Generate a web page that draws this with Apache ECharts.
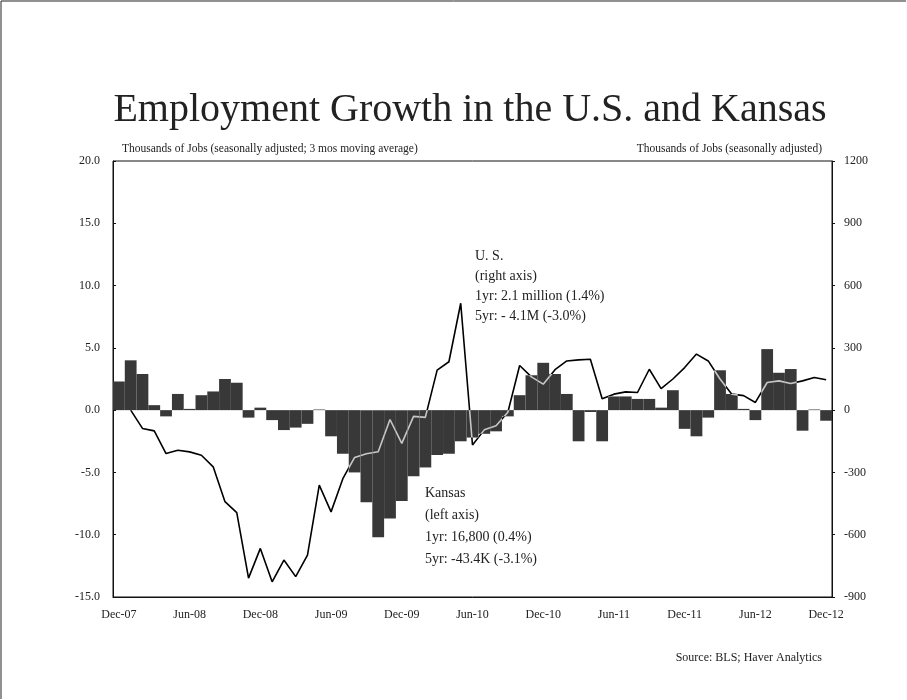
<!DOCTYPE html>
<html>
<head>
<meta charset="utf-8">
<script src="https://cdn.jsdelivr.net/npm/echarts@6/dist/echarts.min.js"></script>
<style>
html,body{margin:0;padding:0;background:#fff;}
#chart{width:907px;height:700px;}
</style>
</head>
<body>
<div id="chart"></div>
<script>
var months = ["Dec-07","Jan-08","Feb-08","Mar-08","Apr-08","May-08","Jun-08","Jul-08","Aug-08","Sep-08","Oct-08","Nov-08",
"Dec-08","Jan-09","Feb-09","Mar-09","Apr-09","May-09","Jun-09","Jul-09","Aug-09","Sep-09","Oct-09","Nov-09",
"Dec-09","Jan-10","Feb-10","Mar-10","Apr-10","May-10","Jun-10","Jul-10","Aug-10","Sep-10","Oct-10","Nov-10",
"Dec-10","Jan-11","Feb-11","Mar-11","Apr-11","May-11","Jun-11","Jul-11","Aug-11","Sep-11","Oct-11","Nov-11",
"Dec-11","Jan-12","Feb-12","Mar-12","Apr-12","May-12","Jun-12","Jul-12","Aug-12","Sep-12","Oct-12","Nov-12",
"Dec-12"];

// Kansas, thousands of jobs (3 mos moving average), left axis
var kansas = [2.3,4.0,2.9,0.4,-0.5,1.3,0.1,1.2,1.5,2.5,2.2,-0.6,
0.2,-0.8,-1.6,-1.4,-1.1,0.05,-2.1,-3.5,-5.0,-7.4,-10.2,-8.7,
-7.3,-5.3,-4.6,-3.6,-3.5,-2.5,-2.2,-1.9,-1.7,-0.5,1.2,2.8,
3.8,2.9,1.3,-2.5,-0.15,-2.5,1.1,1.1,0.9,0.9,0.2,1.6,
-1.5,-2.1,-0.6,3.2,1.3,0.1,-0.8,4.9,3.0,3.3,-1.65,0.05,
-0.85];

// U.S., thousands of jobs, right axis
var us = [null,0,-88,-100,-209,-193,-201,-217,-273,-441,-494,-809,
-666,-827,-722,-802,-698,-361,-490,-330,-228,-210,-200,-45,
-160,-30,-35,193,233,515,-168,-95,-75,-10,215,160,
125,195,237,242,245,55,77,88,85,197,104,150,
205,270,237,150,77,70,37,133,141,128,141,157,
146];

var leftTicks = {min:-15, max:20, interval:5};
var rightTicks = {min:-900, max:1200, interval:300};

var SERIF = "'Liberation Serif', 'DejaVu Serif', serif";
var chart = echarts.init(document.getElementById('chart'), null, {renderer: 'canvas'});

chart.setOption({
  backgroundColor: '#fff',
  animation: false,
  title: {
    text: 'Employment Growth in the U.S. and Kansas',
    left: 465, top: 85, textAlign: 'center',
    textStyle: {fontFamily: SERIF, fontSize: 40, fontWeight: 'normal', color: '#222'}
  },
  grid: {left: 113, right: 75, top: 161, bottom: 103, show: true, borderColor: '#111', borderWidth: 1},
  xAxis: {
    type: 'category', data: months, boundaryGap: true,
    axisLine: {show: true, onZero: false, lineStyle: {color: '#111'}},
    axisTick: {show: false},
    axisLabel: {interval: 5, fontFamily: SERIF, fontSize: 12, color: '#222', margin: 12}
  },
  yAxis: [
    {
      type: 'value', position: 'left', min: leftTicks.min, max: leftTicks.max, interval: leftTicks.interval,
      axisLine: {show: true, lineStyle: {color: '#111'}},
      axisTick: {show: true, inside: true, length: 3, lineStyle: {color: '#111'}},
      splitLine: {show: false},
      axisLabel: {formatter: function(v){return v.toFixed(1);}, fontFamily: SERIF, fontSize: 12, color: '#222', margin: 13}
    },
    {
      type: 'value', position: 'right', min: rightTicks.min, max: rightTicks.max, interval: rightTicks.interval,
      axisLine: {show: true, lineStyle: {color: '#111'}},
      axisTick: {show: true, inside: false, length: 3, lineStyle: {color: '#111'}},
      splitLine: {show: false},
      axisLabel: {formatter: function(v){return String(v);}, fontFamily: SERIF, fontSize: 12, color: '#222', margin: 12}
    }
  ],
  series: [
    {
      name: 'Kansas', type: 'bar', yAxisIndex: 0, data: kansas,
      barCategoryGap: '0%', barWidth: '100%',
      itemStyle: {color: '#383838'}
    },
    {
      name: 'U.S.', type: 'line', yAxisIndex: 1, data: us,
      symbol: 'none', smooth: false, connectNulls: false,
      blendMode: 'difference',
      lineStyle: {color: '#fff', width: 1.6}, z: 5
    }
  ],
  graphic: [
    {type: 'line', shape: {x1: 1, y1: 1, x2: 906, y2: 1}, style: {stroke: '#222', lineWidth: 1}},
    {type: 'line', shape: {x1: 1, y1: 1, x2: 1, y2: 699}, style: {stroke: '#222', lineWidth: 1}},
    {type: 'text', left: 122, top: 143, style: {text: 'Thousands of Jobs (seasonally adjusted; 3 mos moving average)', fontFamily: SERIF, fontSize: 11.5, fill: '#222'}},
    {type: 'text', right: 85, top: 143, style: {text: 'Thousands of Jobs (seasonally adjusted)', fontFamily: SERIF, fontSize: 11.5, fill: '#222'}},
    {type: 'text', left: 475, top: 246, style: {text: 'U. S.\n(right axis)\n1yr: 2.1 million (1.4%)\n5yr: - 4.1M (-3.0%)', fontFamily: SERIF, fontSize: 14, lineHeight: 20, fill: '#222'}},
    {type: 'text', left: 425, top: 482, style: {text: 'Kansas\n(left axis)\n1yr: 16,800 (0.4%)\n5yr: -43.4K (-3.1%)', fontFamily: SERIF, fontSize: 14, lineHeight: 22, fill: '#222'}},
    {type: 'text', right: 85, top: 652, style: {text: 'Source: BLS; Haver Analytics', fontFamily: SERIF, fontSize: 12, fill: '#222'}}
  ]
});
</script>
</body>
</html>
